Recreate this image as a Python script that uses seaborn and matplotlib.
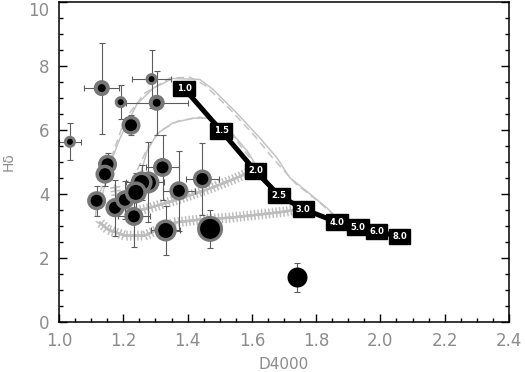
import numpy as np
import pandas as pd
import matplotlib
matplotlib.use('Agg')
import matplotlib.pyplot as plt
import matplotlib.patheffects as pe
from matplotlib.ticker import MultipleLocator
import seaborn as sns

# galaxies: D4000, H-delta and errors
d4000 = [1.034, 1.133, 1.192, 1.304, 1.288, 1.224, 1.151, 1.143, 1.117, 1.174, 1.205,
         1.278, 1.257, 1.239, 1.233, 1.322, 1.373, 1.446, 1.332, 1.470, 1.742]
hdelta = [5.63, 7.31, 6.87, 6.85, 7.59, 6.15, 4.93, 4.62, 3.79, 3.57, 3.82,
          4.36, 4.36, 4.05, 3.30, 4.83, 4.10, 4.47, 2.86, 2.91, 1.39]
d4000_err = [0.035, 0.055, 0.0, 0.097, 0.060, 0.0, 0.0, 0.0, 0.0, 0.0, 0.030,
             0.050, 0.050, 0.0, 0.050, 0.052, 0.050, 0.051, 0.045, 0.0, 0.0]
hdelta_err = [0.58, 1.42, 0.54, 1.00, 0.90, 0.31, 0.36, 0.36, 0.47, 0.87, 0.60,
              1.25, 0.55, 0.60, 0.96, 1.02, 1.25, 1.13, 0.78, 0.59, 0.44]
size_class = ['s', 'm', 's', 'm', 's', 'l', 'l', 'l', 'l', 'l', 'l',
              'xl', 'xl', 'xl', 'l', 'l', 'l', 'l', 'xl', 'xxl', 'bare']

# model track with ages (Gyr)
track_d4000 = [1.389, 1.505, 1.611, 1.685, 1.760, 1.865, 1.931, 1.988, 2.060]
track_hdelta = [7.30, 5.97, 4.72, 3.95, 3.53, 3.12, 2.96, 2.83, 2.67]
track_ages = ['1.0', '1.5', '2.0', '2.5', '3.0', '4.0', '5.0', '6.0', '8.0']

# grey model curves
outer_solid_x = [1.127, 1.159, 1.190, 1.242, 1.292, 1.354, 1.438, 1.479, 1.553, 1.625,
                 1.678, 1.718, 1.780, 1.833, 1.864]
outer_solid_y = [3.64, 4.94, 5.75, 6.80, 7.30, 7.61, 7.58, 7.27, 6.53, 5.75,
                 5.13, 4.51, 4.01, 3.57, 3.26]
outer_dash_x = [1.165, 1.112, 1.118, 1.143, 1.165, 1.205, 1.267, 1.345, 1.407, 1.454,
                1.532, 1.609, 1.672, 1.734, 1.811, 1.864]
outer_dash_y = [2.80, 3.17, 3.79, 4.48, 5.19, 6.34, 7.15, 7.62, 7.65, 7.40,
                6.65, 5.81, 5.04, 4.35, 3.73, 3.26]
inner_solid_x = [1.252, 1.274, 1.305, 1.354, 1.417, 1.469, 1.532, 1.585, 1.625, 1.662, 1.703]
inner_solid_y = [4.57, 5.35, 5.88, 6.22, 6.37, 6.37, 5.97, 5.35, 4.72, 4.23, 3.85]
inner_dash_x = [1.215, 1.242, 1.274, 1.314, 1.370, 1.438, 1.485, 1.541, 1.594, 1.640, 1.687]
inner_dash_y = [3.64, 4.72, 5.41, 5.97, 6.28, 6.40, 6.28, 5.81, 5.13, 4.41, 3.92]
upper_hatch_x = [1.174, 1.183, 1.221, 1.283, 1.376, 1.469, 1.547, 1.600]
upper_hatch_y = [4.26, 3.64, 3.42, 3.57, 3.85, 4.17, 4.48, 4.72]
lower_hatch_x = [1.127, 1.152, 1.205, 1.267, 1.314, 1.361, 1.438, 1.532, 1.625, 1.703, 1.749]
lower_hatch_y = [3.11, 2.89, 2.70, 2.70, 2.92, 3.11, 3.20, 3.26, 3.36, 3.45, 3.54]

# marker outer / inner diameters in pixels
marker_px = {'s': (12, 6), 'm': (16, 8), 'l': (19, 12), 'xl': (22, 15), 'xxl': (26, 20), 'bare': (20, 20)}

sns.set_theme(style='ticks')
plt.rcParams['font.family'] = ['DejaVu Sans']

fig = plt.figure(figsize=(5.25, 3.72), dpi=100)
ax = fig.add_axes([59 / 525, 1 - 322 / 372, 450 / 525, 320 / 372])

grey = '#c4c4c4'
sns.lineplot(x=outer_solid_x, y=outer_solid_y, sort=False, estimator=None, color=grey, lw=1.1, ax=ax)
sns.lineplot(x=outer_dash_x, y=outer_dash_y, sort=False, estimator=None, color=grey, lw=1.1, ax=ax)
ax.lines[-1].set_linestyle((0, (5, 3)))
sns.lineplot(x=inner_solid_x, y=inner_solid_y, sort=False, estimator=None, color=grey, lw=1.1, ax=ax)
sns.lineplot(x=inner_dash_x, y=inner_dash_y, sort=False, estimator=None, color=grey, lw=1.1, ax=ax)
ax.lines[-1].set_linestyle((0, (5, 3)))

hatch_grey = '#bdbdbd'
hatch_fx = [pe.withTickedStroke(angle=90, spacing=2.6, length=1.25, linewidth=1.1, foreground=hatch_grey),
            pe.withTickedStroke(angle=-90, spacing=2.6, length=1.25, linewidth=1.1, foreground=hatch_grey),
            pe.Normal()]
for hx, hy in [(upper_hatch_x, upper_hatch_y), (lower_hatch_x, lower_hatch_y)]:
    sns.lineplot(x=hx, y=hy, sort=False, estimator=None, color=hatch_grey, lw=1.6, ax=ax)
    ax.lines[-1].set_path_effects(hatch_fx)

# black model track with labelled ages
sns.lineplot(x=track_d4000, y=track_hdelta, sort=False, estimator=None, color='black', lw=3.6, ax=ax)
ax.lines[-1].set_zorder(5)
for tx, ty, lab in zip(track_d4000, track_hdelta, track_ages):
    ax.text(tx, ty, lab, color='white', fontsize=6, fontweight='bold', ha='center', va='center',
            zorder=6, bbox=dict(boxstyle='square,pad=0.4', fc='black', ec='black'))

# galaxies
ax.errorbar(d4000, hdelta, xerr=d4000_err, yerr=hdelta_err, fmt='none', ecolor='#5c5c5c',
            elinewidth=0.8, capsize=2.5, capthick=0.8, zorder=2)
outer = np.array([marker_px[c][0] for c in size_class]) * 0.72
inner = np.array([marker_px[c][1] for c in size_class]) * 0.72
df = pd.DataFrame({'D4000': d4000, 'Hdelta': hdelta})
sns.scatterplot(data=df, x='D4000', y='Hdelta', color='black', edgecolor='#777777',
                s=((outer + inner) / 2) ** 2, ax=ax, zorder=3, legend=False)
pts = ax.collections[-1]
pts.set_linewidths((outer - inner) / 2)

ax.set_xlim(1.0, 2.4)
ax.set_ylim(0, 10)
ax.xaxis.set_major_locator(MultipleLocator(0.2))
ax.xaxis.set_minor_locator(MultipleLocator(0.05))
ax.yaxis.set_major_locator(MultipleLocator(2))
ax.yaxis.set_minor_locator(MultipleLocator(0.5))
ax.xaxis.set_major_formatter(matplotlib.ticker.FormatStrFormatter('%.1f'))
ax.tick_params(which='both', direction='in', right=True, top=False, width=1.0, color='black',
               labelcolor='#8c8c8c', labelsize=12)
ax.tick_params(which='major', length=6, pad=7)
ax.tick_params(which='minor', length=3)
for sp in ax.spines.values():
    sp.set_linewidth(1.1)
    sp.set_color('black')
ax.set_xlabel('D4000', color='#8c8c8c', fontsize=11, labelpad=5)
ax.set_ylabel('Hδ', color='#8c8c8c', fontsize=10, labelpad=9)

# keep the top y label inside the figure
fig.canvas.draw()
for lab in ax.get_yticklabels():
    if lab.get_text() == '10':
        lab.set_verticalalignment('top')

fig.savefig('out.png', dpi=100)
